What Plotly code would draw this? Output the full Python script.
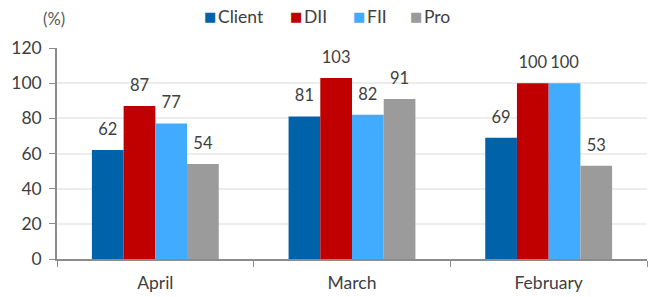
import plotly.graph_objects as go

categories = ["April", "March", "February"]
series_names = ["Client", "DII", "FII", "Pro"]
client = [62, 81, 69]
dii = [87, 103, 100]
fii = [77, 82, 100]
pro = [54, 91, 53]
colors = ["#0062A8", "#C00000", "#41ABFF", "#9B9B9B"]
all_series = [client, dii, fii, pro]

FS = 17.5
fig = go.Figure()
for name, vals, c in zip(series_names, all_series, colors):
    fig.add_trace(go.Bar(
        x=categories, y=vals, name=name, marker_color=c, marker_line_width=0,
        showlegend=False,
    ))
for name, vals in zip(series_names, all_series):
    fig.add_trace(go.Scatter(
        x=categories, y=vals, mode="markers+text", text=[str(v) for v in vals],
        textposition="top center", marker=dict(size=16, opacity=0),
        textfont=dict(size=16.5, color="#404040"), showlegend=False,
        hoverinfo="skip", cliponaxis=False,
    ))

PW = 590  # plot width in px
PH = 211  # plot height in px
fig.update_layout(
    width=648, height=297,
    margin=dict(l=57, r=1, t=48, b=38, autoexpand=False),
    barmode="group", bargap=0.355, bargroupgap=0,
    scattermode="group", scattergap=0.355,
    plot_bgcolor="white", paper_bgcolor="white",
    font=dict(family="Lato", size=FS, color="#404040"),
    showlegend=False,
)
fig.update_yaxes(range=[0, 120], dtick=20, showgrid=True, gridcolor="#EDEDED", gridwidth=1.5,
                 showline=True, linecolor="#8C8C8C", linewidth=1.5,
                 ticks="outside", ticklen=6, tickcolor="#8C8C8C", zeroline=False,
                 tickfont=dict(size=FS, color="#404040"), ticklabelstandoff=4)
fig.update_xaxes(showline=True, linecolor="#8C8C8C", linewidth=1.5,
                 ticks="outside", tickson="boundaries", ticklen=6, tickcolor="#8C8C8C",
                 tickfont=dict(size=FS, color="#404040"), ticklabelstandoff=7)

# "(%)" unit label
fig.add_annotation(text="(%)", xref="paper", yref="paper", x=(54 - 57) / PW,
                   y=1 + (48 - 19) / PH, yanchor="middle",
                   showarrow=False, font=dict(size=16.5, color="#595959"), xanchor="center")

# custom legend (square swatch close to text)
legend_left_px = [203, 289, 352, 409]
legend_y = 1 + (48 - 17) / PH
for name, c, px in zip(series_names, colors, legend_left_px):
    fig.add_annotation(
        text="■", xref="paper", yref="paper", x=(px - 57) / PW, y=legend_y,
        xanchor="left", yanchor="middle", showarrow=False, borderpad=0,
        font=dict(size=13, color=c, family="DejaVu Sans"),
    )
    fig.add_annotation(
        text=name, xref="paper", yref="paper", x=(px + 14 - 57) / PW, y=legend_y,
        xanchor="left", yanchor="middle", showarrow=False, borderpad=0,
        font=dict(size=FS, color="#404040"),
    )
fig.write_html("out.html", config={"displayModeBar": False},
               post_script="document.body.style.margin='0';")
